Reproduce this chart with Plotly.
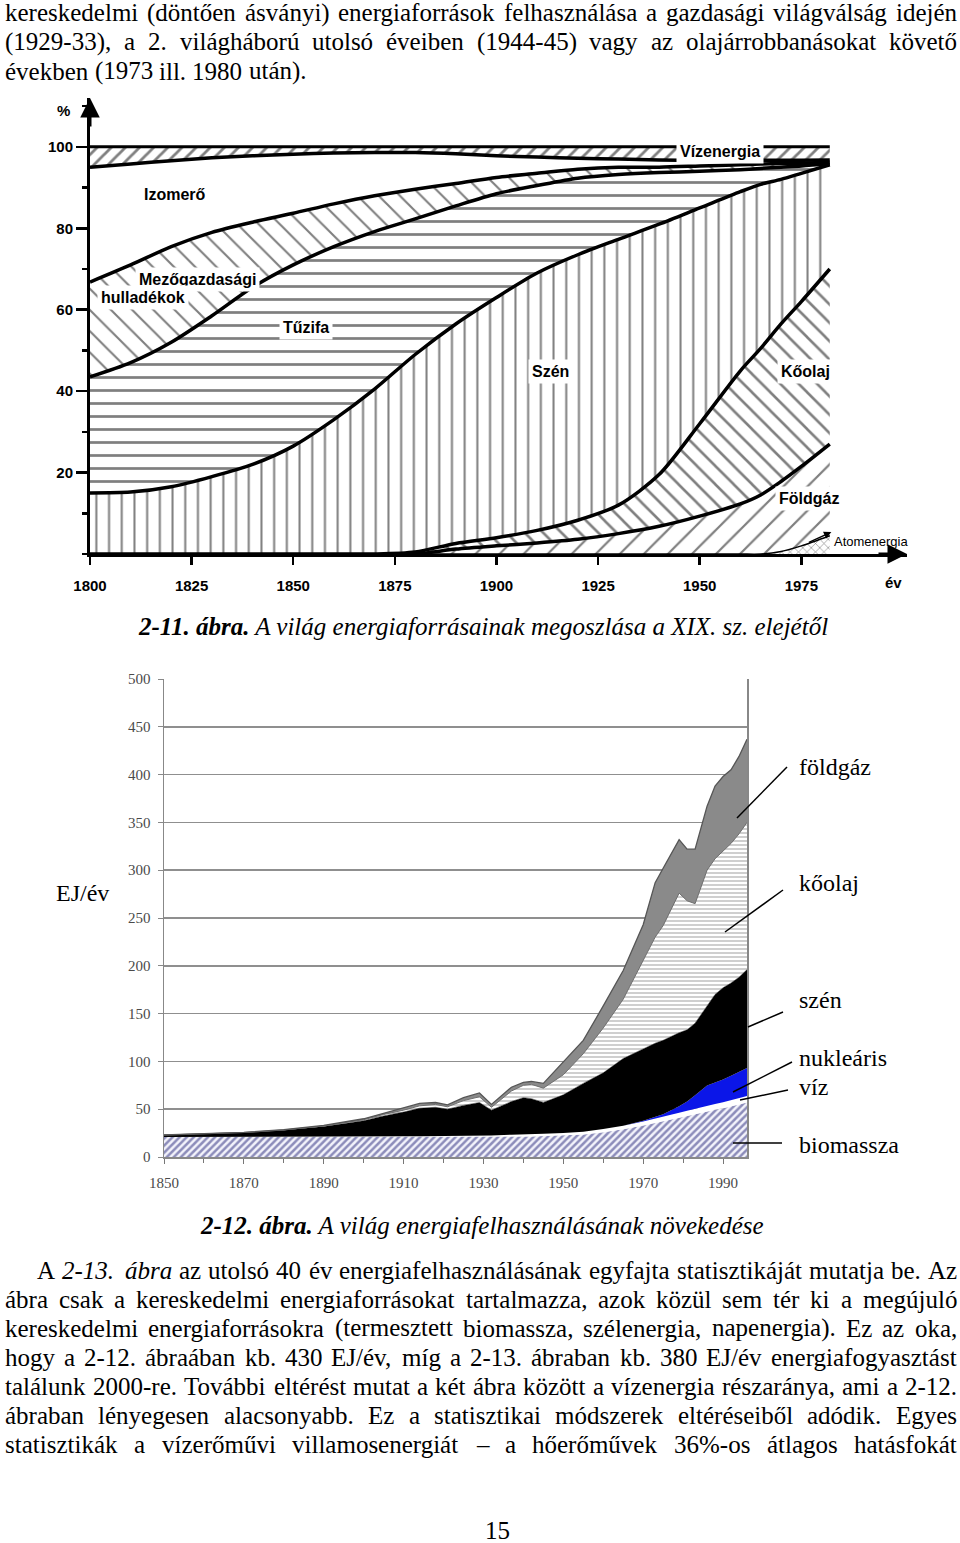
import plotly.graph_objects as go

W, H = 960, 1543
OX, OY = 0, 0  # figure sits in the window corner (body margin removed below)

# ---------------- 2-11. ábra : share of world energy sources (%) ----------------
years_share = [1800, 1810, 1820, 1830, 1840, 1850, 1860, 1870, 1880, 1890, 1900,
               1910, 1920, 1930, 1940, 1950, 1960, 1965, 1970, 1975, 1982]
atomenergia = [0, 0, 0, 0, 0, 0, 0, 0, 0, 0, 0, 0, 0, 0, 0, 0, 0, 0, 0.6, 2, 4.5]
foldgaz = [0, 0, 0, 0, 0, 0, 0, 0, 0, 1.2, 2.0, 2.7, 3.6, 5, 6.8, 9.3, 12.3, 14.5, 17.2, 19.5, 22.5]
koolaj = [0, 0, 0, 0, 0, 0, 0, 0, 0.5, 1.4, 2.0, 3.1, 4.7, 7, 12.7, 22.7, 32.7, 36, 38.7, 40.5, 43]
szen = [15, 15.2, 16.5, 19, 22, 26.5, 33, 40.5, 48.5, 53.9, 59, 63.2, 65.2, 65.3, 61.5, 53, 44, 40.3, 35.5, 31.5, 25.6]
tuzifa = [28.5, 31.8, 35.5, 39.5, 43.5, 44.5, 42.5, 38.7, 33.3, 29, 25.5, 21.5, 18.8, 15.9, 12.7, 9, 5.4, 3.9, 3.0, 1.8, 0.3]
mezogazdasagi = [23.3, 24, 23.5, 20.5, 16, 12.7, 10.5, 8.8, 7.3, 5.5, 4, 3, 2.2, 1.8, 1.3, 1.3, 1.2, 1.1, 0.9, 0.7, 0.3]
izomero = [28.2, 24.8, 21.1, 18.3, 16.3, 14.5, 12.5, 10.6, 9, 7.3, 5.3, 4, 2.7, 2, 1.8, 1.4, 1.1, 0.9, 0.8, 0.7, 0.6]
vizenergia = [5, 4.2, 3.4, 2.7, 2.2, 1.8, 1.5, 1.4, 1.4, 1.7, 2.2, 2.5, 2.8, 3, 3.2, 3.3, 3.3, 3.3, 3.3, 3.3, 3.2]
share_tick_years = [1800, 1825, 1850, 1875, 1900, 1925, 1950, 1975]
share_tick_pct = [20, 40, 60, 80, 100]

# ---------------- 2-12. ábra : world energy use (EJ/év) ----------------
years_ej = [1850, 1860, 1870, 1880, 1890, 1900, 1905, 1910, 1914, 1918, 1921, 1925,
            1929, 1932, 1937, 1940, 1942, 1945, 1950, 1955, 1960, 1965, 1970, 1973,
            1975, 1979, 1981, 1983, 1986, 1988, 1990, 1992, 1994, 1996]
biomassza = [21, 21, 21, 21, 21, 21, 21, 21, 21, 21, 21, 21, 21, 21, 21.5, 21.5, 21.5,
             22, 22.5, 23.5, 26, 29, 33, 35.5, 37, 41, 43, 45, 48, 49.5, 51, 53, 55, 57]
viz = [0, 0, 0, 0, 0, 0.3, 0.4, 0.6, 0.8, 0.9, 1.0, 1.2, 1.4, 1.5, 1.8, 2.0, 2.2, 2.3,
       2.5, 3.0, 3.3, 3.7, 4.2, 4.5, 4.7, 5.2, 5.4, 5.6, 5.8, 6.0, 6.2, 6.3, 6.5, 6.7]
nuklearis = [0, 0, 0, 0, 0, 0, 0, 0, 0, 0, 0, 0, 0, 0, 0, 0, 0, 0, 0, 0, 0, 0,
             0.8, 1.8, 3, 6.8, 9.6, 14, 21, 22.5, 23.8, 25.7, 27.5, 29.3]
szen_ej = [2, 3, 4.5, 7, 11, 16.7, 21.6, 25.4, 29.2, 30.1, 28, 31.8, 34.6, 26.5, 34.7,
           38.5, 37.3, 32.7, 40, 50.5, 58.7, 70.3, 75, 77.2, 77.3, 77, 75, 75.4, 83.2,
           92, 96, 97, 99, 103]
koolaj_ej = [0, 0, 0.1, 0.3, 0.5, 1, 1.5, 2, 2.5, 3, 2.5, 5, 6, 3, 11, 13, 15, 15, 21,
             31, 47, 62, 92, 111, 120, 146, 135, 125, 142, 142, 143, 146, 150, 154]
foldgaz_ej = [0, 0, 0.1, 0.2, 0.5, 1, 1.5, 2.5, 2.5, 2, 2, 3, 4, 3, 4, 3, 3, 5, 14, 14,
              23, 30, 38, 57, 60, 56, 54, 57, 67, 76, 78, 77, 81, 87]


def px(x):
    return (x - OX) / W


def py(y):
    return 1 - (y - OY) / H


fig = go.Figure()

# ---- top chart (stacked, hatched) ----
top_layers = [
    ("Atomenergia", atomenergia, dict(shape="x", size=6, solidity=0.2), 1.5),
    ("Földgáz", foldgaz, dict(shape="/", size=17, solidity=0.13), 3.5),
    ("Kőolaj", koolaj, dict(shape="\\", size=13, solidity=0.2), 3.5),
    ("Szén", szen, dict(shape="|", size=12.7, solidity=0.16), 3.5),
    ("Tűzifa", tuzifa, dict(shape="-", size=13, solidity=0.21), 3.5),
    ("Mezőgazdasági hulladékok", mezogazdasagi, dict(shape="\\", size=15, solidity=0.14), 3.5),
    ("Izomerő", izomero, None, 3.5),
    ("Vízenergia", vizenergia, dict(shape="/", size=10, solidity=0.28), 3),
]
for name, vals, pat, lw in top_layers:
    kw = dict(fillcolor="white")
    if pat:
        kw["fillpattern"] = dict(fgcolor="black", bgcolor="white", **pat)
    fig.add_trace(go.Scatter(
        x=years_share, y=vals, name=name, stackgroup="share", mode="lines",
        line=dict(color="black", width=lw, shape="spline", smoothing=0.8),
        xaxis="x", yaxis="y", hoverinfo="skip", **kw))

# ---- bottom chart (stacked) ----
bottom_layers = [
    ("biomassza", biomassza,
     dict(fillcolor="white", fillpattern=dict(shape="/", size=5, solidity=0.5,
                                              fgcolor="#25257a", bgcolor="#f3f3fb")),
     dict(width=0)),
    ("víz", viz, dict(fillcolor="white"), dict(width=0)),
    ("nukleáris", nuklearis, dict(fillcolor="#0b16e8"), dict(width=0)),
    ("szén", szen_ej, dict(fillcolor="black"), dict(color="black", width=0.5)),
    ("kőolaj", koolaj_ej,
     dict(fillcolor="white", fillpattern=dict(shape="-", size=4, solidity=0.5,
                                              fgcolor="#a0a0a0", bgcolor="white")),
     dict(color="#6e6e6e", width=1)),
    ("földgáz", foldgaz_ej, dict(fillcolor="#8a8a8a"), dict(color="#555555", width=1.3)),
]
for name, vals, fkw, lkw in bottom_layers:
    fig.add_trace(go.Scatter(
        x=years_ej, y=vals, name=name, stackgroup="ej", mode="lines",
        line=lkw, xaxis="x2", yaxis="y2", hoverinfo="skip", **fkw))

ann = []
shapes = []


def label(text, x, y, font, xanchor="center", **extra):
    ann.append(dict(text=text, x=px(x), y=py(y), xref="paper", yref="paper",
                    xanchor=xanchor, yanchor="middle", showarrow=False, font=font,
                    **extra))


# ---- top chart labels ----
bold = dict(family="Liberation Sans", size=16, color="black", weight="bold")
for text, x, y in [("Vízenergia", 720, 152), ("Izomerő", 175, 194),
                   ("Mezőgazdasági", 197, 279), ("hulladékok", 143, 297),
                   ("Tűzifa", 306, 328), ("Szén", 550, 372), ("Kőolaj", 805, 372),
                   ("Földgáz", 809, 498)]:
    label(text, x, y, bold, bgcolor="white", borderpad=3)
label("Atomenergia", 871, 541, dict(family="Liberation Sans", size=13, color="black"))
ann.append(dict(text="", x=1982.4, y=5.4, xref="x", yref="y", ax=-24, ay=11,
                showarrow=True, arrowhead=2, arrowsize=1, arrowwidth=1.5, arrowcolor="black"))
label("%", 63, 110, dict(family="Liberation Sans", size=15, color="black", weight="bold"))
label("év", 893, 583, dict(family="Liberation Sans", size=15, color="black", weight="bold"))
# axis arrow heads
ann.append(dict(text="", x=2001, y=0, xref="x", yref="y", ax=-30, ay=0, showarrow=True,
                arrowhead=2, arrowsize=1.3, arrowwidth=3, arrowcolor="black", standoff=0))
ann.append(dict(text="", x=1800, y=112, xref="x", yref="y", ax=0, ay=30, showarrow=True,
                arrowhead=2, arrowsize=1.3, arrowwidth=3, arrowcolor="black", standoff=0))

# ---- bottom chart labels and leader lines ----
serif24 = dict(family="Liberation Serif", size=24, color="black")
for text, x, y in [("földgáz", 797, 767), ("kőolaj", 797, 883), ("szén", 797, 1000),
                   ("nukleáris", 797, 1058), ("víz", 797, 1087), ("biomassza", 797, 1145)]:
    label(text, x, y, serif24, xanchor="left")
label("EJ/év", 82, 893, serif24)
for x0, y0, x1, y1 in [(787, 767, 737, 818), (783, 890, 725, 932), (783, 1012, 748, 1027),
                       (792, 1062, 733, 1092), (788, 1090, 740, 1100), (782, 1143, 733, 1143)]:
    shapes.append(dict(type="line", xref="paper", yref="paper", x0=px(x0), y0=py(y0),
                       x1=px(x1), y1=py(y1), line=dict(color="black", width=1.5)))

# ---- page text ----
CW = {" ": 250, "(": 333, ")": 333, ",": 250, "-": 333, ".": 250, "/": 278, "%": 833,
      "–": 500, ":": 278,
      "a": 444, "b": 500, "c": 444, "d": 500, "e": 444, "f": 333, "g": 500, "h": 500,
      "i": 278, "j": 278, "k": 500, "l": 278, "m": 778, "n": 500, "o": 500, "p": 500,
      "q": 500, "r": 333, "s": 389, "t": 278, "u": 500, "v": 500, "w": 722, "x": 500,
      "y": 500, "z": 444, "á": 444, "é": 444, "í": 278, "ó": 500, "ö": 500, "ő": 500,
      "ú": 500, "ü": 500, "ű": 500,
      "A": 722, "B": 667, "C": 667, "D": 722, "E": 611, "F": 556, "G": 722, "H": 722,
      "I": 333, "J": 389, "K": 722, "L": 611, "M": 889, "N": 722, "O": 722, "P": 556,
      "R": 667, "S": 556, "T": 611, "U": 722, "V": 722, "X": 722, "Z": 611}
FS = 25
txtfont = dict(family="Liberation Serif", size=FS, color="black")


def tw(s, italic=False):
    w = sum(CW.get(ch, 500) for ch in s) / 1000 * FS
    return w * 1.08 if italic else w


def place_line(line, y, x0=4, x1=956, justify=True):
    words = line.split(" ")
    italic = set()
    clean = []
    for i, w in enumerate(words):
        if w.startswith("*"):
            italic.add(i)
            w = w[1:]
        clean.append(w)
    widths = [tw(w, i in italic) for i, w in enumerate(clean)]
    if justify and len(clean) > 1:
        gap = (x1 - x0 - sum(widths)) / (len(clean) - 1)
    else:
        gap = 0.25 * FS
    x = x0
    for i, (w, wd) in enumerate(zip(clean, widths)):
        t = f"<i>{w}</i>" if i in italic else w
        label(t, x, y, txtfont, xanchor="left", borderpad=0)
        x += wd + gap


top_text = [
    "kereskedelmi (döntően ásványi) energiaforrások felhasználása a gazdasági világválság idején",
    "(1929-33), a 2. világháború utolsó éveiben (1944-45) vagy az olajárrobbanásokat követő",
    "években (1973 ill. 1980 után).",
]
place_line(top_text[0], 13)
place_line(top_text[1], 42)
place_line(top_text[2], 71, justify=False)

bottom_text = [
    "A *2-13. *ábra az utolsó 40 év energiafelhasználásának egyfajta statisztikáját mutatja be. Az",
    "ábra csak a kereskedelmi energiaforrásokat tartalmazza, azok közül sem tér ki a megújuló",
    "kereskedelmi energiaforrásokra (termesztett biomassza, szélenergia, napenergia). Ez az oka,",
    "hogy a 2-12. ábraában kb. 430 EJ/év, míg a 2-13. ábraban kb. 380 EJ/év energiafogyasztást",
    "találunk 2000-re. További eltérést mutat a két ábra között a vízenergia részaránya, ami a 2-12.",
    "ábraban lényegesen alacsonyabb. Ez a statisztikai módszerek eltéréseiből adódik. Egyes",
    "statisztikák a vízerőművi villamosenergiát – a hőerőművek 36%-os átlagos hatásfokát",
]
for i, line in enumerate(bottom_text):
    place_line(line, 1270 + 29 * i, x0=36 if i == 0 else 4)

label("<b><i>2-11. ábra.</i></b><i> A világ energiaforrásainak megoszlása a XIX. sz. elejétől</i>",
      483, 626, txtfont)
label("<b><i>2-12. ábra.</i></b><i> A világ energiafelhasználásának növekedése</i>",
      482, 1225, txtfont)
label("15", 497, 1530, txtfont)

axfont_top = dict(family="Liberation Sans", size=15, color="black", weight="bold")
axfont_bot = dict(family="Liberation Serif", size=15, color="#4a4a4a")

fig.update_layout(
    width=W, height=H, margin=dict(l=0, r=0, t=0, b=0, pad=0, autoexpand=False),
    paper_bgcolor="white", plot_bgcolor="white", showlegend=False, hovermode=False,
    xaxis=dict(domain=[px(90), px(907)], range=[1800, 2001], anchor="y", automargin=False,
               tickmode="array", tickvals=share_tick_years, ticks="outside",
               ticklen=8, tickwidth=2.5, tickcolor="black", showline=True,
               linewidth=3, linecolor="black", showgrid=False, zeroline=False,
               tickfont=axfont_top, ticklabelstandoff=8),
    yaxis=dict(domain=[py(554), py(98)], range=[0, 112], anchor="x", automargin=False,
               tickmode="array", tickvals=share_tick_pct, ticks="outside",
               ticklen=11, tickwidth=2.5, tickcolor="black", showline=True,
               linewidth=3, linecolor="black", showgrid=False, zeroline=False,
               tickfont=axfont_top,
               minor=dict(tickmode="linear", tick0=0, dtick=10, ticks="outside",
                          ticklen=5, tickwidth=2.5, tickcolor="black")),
    xaxis2=dict(domain=[px(164), px(747)], range=[1850, 1996], anchor="y2", automargin=False,
                tick0=1850, dtick=20, ticks="outside", ticklen=5, tickcolor="#777",
                showline=True, linecolor="#888", linewidth=1.5, showgrid=False,
                zeroline=False, tickfont=axfont_bot, ticklabelstandoff=6,
                minor=dict(dtick=10, tick0=1850, ticks="outside", ticklen=4,
                           tickcolor="#777")),
    yaxis2=dict(domain=[py(1157), py(679)], range=[0, 500], anchor="x2", automargin=False,
                tick0=0, dtick=50, ticks="outside", ticklen=5, tickcolor="#888",
                showline=True, mirror=True, linecolor="#888", linewidth=1.5,
                showgrid=True, gridcolor="#8f8f8f", gridwidth=1.5, zeroline=False,
                tickfont=axfont_bot, ticklabelstandoff=4),
    annotations=ann, shapes=shapes,
)

fig.write_html("out.html",
               config={"displayModeBar": False, "staticPlot": True},
               post_script="document.body.style.margin='0';document.body.style.overflow='hidden';")
